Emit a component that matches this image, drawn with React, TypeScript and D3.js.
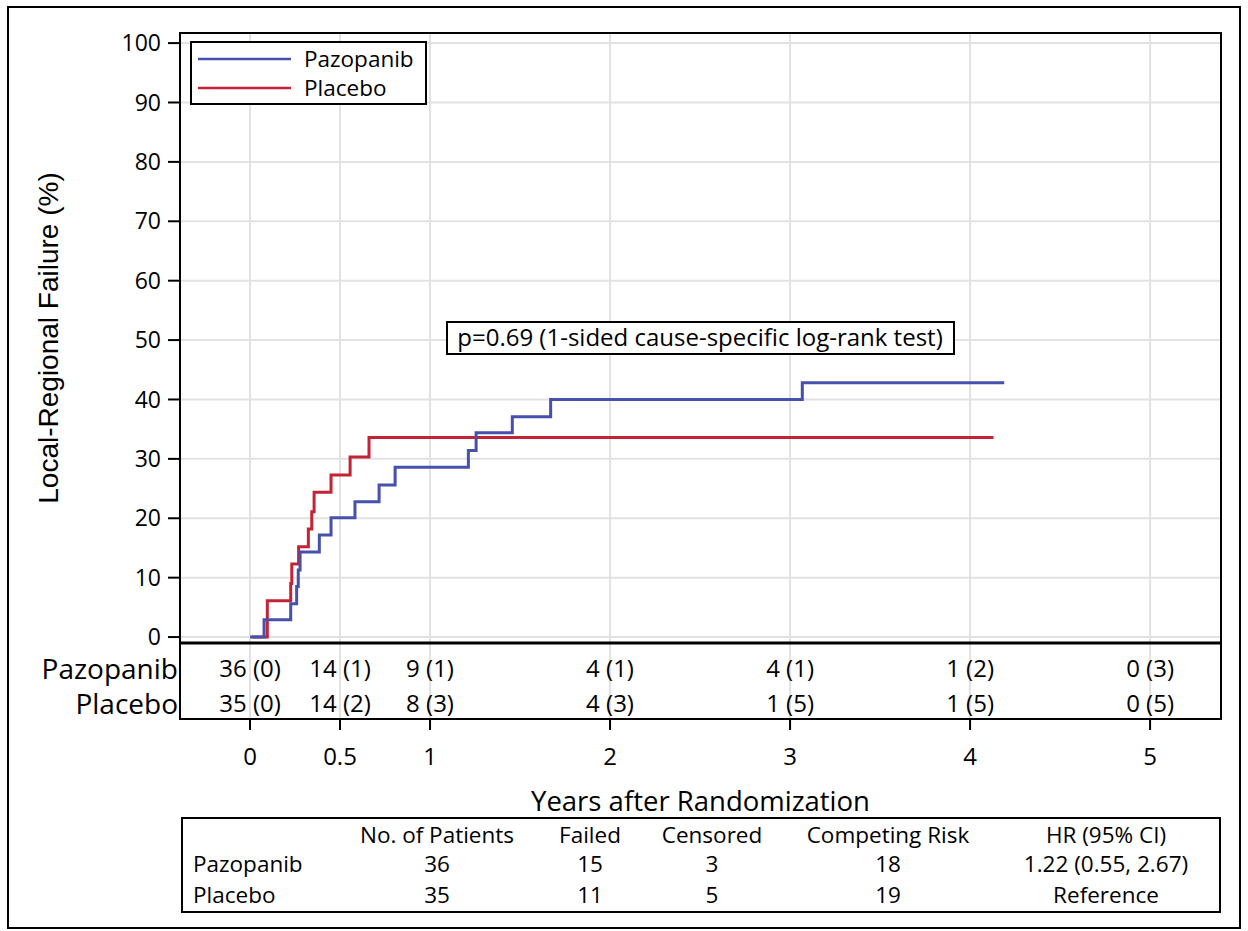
import React from 'react';
import * as d3 from 'd3';

// cumulative incidence of local-regional failure (%)
const pazoTimes = [0, 0.078, 0.226, 0.259, 0.268, 0.278, 0.385, 0.45, 0.583, 0.717, 0.806, 1.213, 1.256, 1.457, 1.67, 3.068, 4.19];
const pazoCif = [0, 2.9, 5.6, 8.5, 11.3, 14.3, 17.2, 20.1, 22.8, 25.6, 28.6, 31.4, 34.4, 37.1, 40.0, 42.8, 42.8];
const placTimes = [0.01, 0.096, 0.226, 0.232, 0.27, 0.324, 0.343, 0.356, 0.45, 0.556, 0.661, 4.13];
const placCif = [0, 6.1, 9.0, 12.3, 15.2, 18.2, 21.1, 24.4, 27.3, 30.3, 33.6, 33.6];

// numbers at risk (censored)
const riskTimes = [0, 0.5, 1, 2, 3, 4, 5];
const pazoAtRisk = [36, 14, 9, 4, 4, 1, 0];
const pazoCensored = [0, 1, 1, 1, 1, 2, 3];
const placAtRisk = [35, 14, 8, 4, 1, 1, 0];
const placCensored = [0, 2, 3, 3, 5, 5, 5];

const yTicks = [0, 10, 20, 30, 40, 50, 60, 70, 80, 90, 100];
const xTicks = [0, 0.5, 1, 2, 3, 4, 5];

const tableHeaders = ['No. of Patients', 'Failed', 'Censored', 'Competing Risk', 'HR (95% CI)'];
const tableGroups = ['Pazopanib', 'Placebo'];
const tablePatients = [36, 35];
const tableFailed = [15, 11];
const tableCensored = [3, 5];
const tableCompeting = [18, 19];
const tableHr = ['1.22 (0.55, 2.67)', 'Reference'];

const BLUE = '#4650ad';
const RED = '#c42335';
const GRID = '#e2e2e2';
const FONT = '"Open Sans", "Noto Sans", sans-serif';
const ARIAL = '"Liberation Sans", Arial, sans-serif';

const App = () => {
  const left = 180, right = 1221, top = 33, plotBottom = 643, riskBottom = 719;
  const x = d3.scaleLinear().domain([-0.389, 5.394]).range([left, right]);
  const y = d3.scaleLinear().domain([-1.0, 101.7]).range([plotBottom, top]);

  const line = d3.line<[number, number]>()
    .x(d => x(d[0]))
    .y(d => y(d[1]))
    .curve(d3.curveStepAfter);

  const pazoPath = line(pazoTimes.map((t, i) => [t, pazoCif[i]]));
  const placPath = line(placTimes.map((t, i) => [t, placCif[i]]));

  const rowY = [669, 704];
  const colX = [437, 590, 712, 888, 1106];
  const tableRowY = [864, 895];
  const tRows = tableGroups.map((g, i) => [
    tablePatients[i], tableFailed[i], tableCensored[i], tableCompeting[i], tableHr[i],
  ]);

  return (
    <svg width={1248} height={931} style={{ position: 'absolute', left: 0, top: 0, background: '#fff' }}
      fontFamily={FONT}>
      <rect x={8} y={7} width={1232} height={921} fill="none" stroke="#000" strokeWidth={2} />

      {/* grid */}
      <g stroke={GRID} strokeWidth={2}>
        {yTicks.map(t => (
          <line key={'gy' + t} x1={left} x2={right} y1={y(t)} y2={y(t)} />
        ))}
        {xTicks.map(t => (
          <line key={'gx' + t} x1={x(t)} x2={x(t)} y1={top} y2={riskBottom} />
        ))}
      </g>

      {/* curves */}
      <path d={placPath ?? ''} fill="none" stroke={RED} strokeWidth={3} />
      <path d={pazoPath ?? ''} fill="none" stroke={BLUE} strokeWidth={3} />

      {/* frames */}
      <rect x={left} y={top} width={right - left} height={riskBottom - top} fill="none" stroke="#000" strokeWidth={2} />
      <line x1={left} x2={right} y1={plotBottom} y2={plotBottom} stroke="#000" strokeWidth={3} />

      {/* y axis */}
      <g fontSize={23} textAnchor="end">
        {yTicks.map(t => (
          <g key={'yt' + t}>
            <line x1={168} x2={left} y1={y(t)} y2={y(t)} stroke="#000" strokeWidth={2} />
            <text x={161} y={y(t)} dy="0.35em">{t}</text>
          </g>
        ))}
      </g>
      <text transform={`translate(58,${(top + plotBottom) / 2}) rotate(-90)`} textAnchor="middle"
        fontFamily={ARIAL} fontSize={28}>Local-Regional Failure (%)</text>

      {/* x axis */}
      <g fontSize={24} textAnchor="middle">
        {xTicks.map(t => (
          <g key={'xt' + t}>
            <line x1={x(t)} x2={x(t)} y1={riskBottom} y2={730} stroke="#000" strokeWidth={2} />
            <text x={x(t)} y={757} dy="0.35em">{t}</text>
          </g>
        ))}
      </g>
      <text x={(left + right) / 2} y={801} dy="0.35em" textAnchor="middle" fontSize={27.5}>
        Years after Randomization
      </text>

      {/* legend */}
      <rect x={191} y={42} width={235} height={62} fill="#fff" stroke="#000" strokeWidth={2} />
      <line x1={198} x2={291} y1={59} y2={59} stroke={BLUE} strokeWidth={2.5} />
      <text x={304} y={59} dy="0.35em" fontSize={22.5}>Pazopanib</text>
      <line x1={198} x2={291} y1={88} y2={88} stroke={RED} strokeWidth={2.5} />
      <text x={304} y={88} dy="0.35em" fontSize={22.5}>Placebo</text>

      {/* p-value */}
      <rect x={447} y={322} width={507} height={32} fill="#fff" stroke="#000" strokeWidth={2} />
      <text x={700} y={338} dy="0.35em" textAnchor="middle" fontSize={24}>
        p=0.69 (1-sided cause-specific log-rank test)
      </text>

      {/* numbers at risk */}
      <g fontSize={28} textAnchor="end">
        <text x={178} y={rowY[0]} dy="0.35em">Pazopanib</text>
        <text x={178} y={rowY[1]} dy="0.35em">Placebo</text>
      </g>
      <g fontSize={24} textAnchor="middle">
        {riskTimes.map((t, i) => (
          <text key={'rp' + t} x={x(t)} y={rowY[0]} dy="0.35em">{`${pazoAtRisk[i]} (${pazoCensored[i]})`}</text>
        ))}
        {riskTimes.map((t, i) => (
          <text key={'rc' + t} x={x(t)} y={rowY[1]} dy="0.35em">{`${placAtRisk[i]} (${placCensored[i]})`}</text>
        ))}
      </g>

      {/* summary table */}
      <rect x={182} y={818} width={1038} height={94} fill="none" stroke="#000" strokeWidth={2} />
      <g fontSize={22.5}>
        {tableHeaders.map((h, i) => (
          <text key={h} x={colX[i]} y={835} dy="0.35em" textAnchor="middle">{h}</text>
        ))}
        {tableGroups.map((g, r) => (
          <g key={g}>
            <text x={193} y={tableRowY[r]} dy="0.35em">{g}</text>
            {tRows[r].map((v, c) => (
              <text key={c} x={colX[c]} y={tableRowY[r]} dy="0.35em" textAnchor="middle">{v}</text>
            ))}
          </g>
        ))}
      </g>
    </svg>
  );
};

export default App;
